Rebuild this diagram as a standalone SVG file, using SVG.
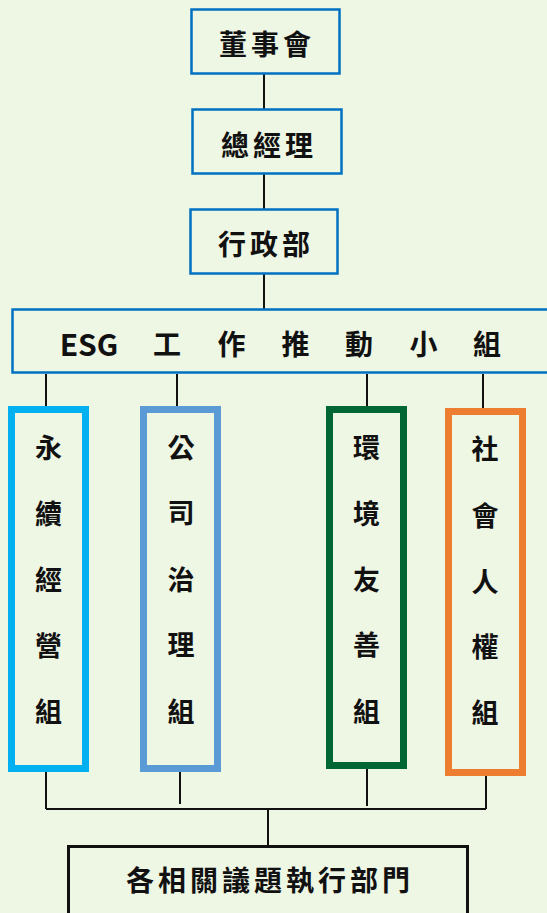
<svg xmlns="http://www.w3.org/2000/svg" width="547" height="913" viewBox="0 0 547 913">
<style>
.bg{fill:#EEF6E4}
.top{fill:#EEF6E4;stroke:#0070C0;stroke-width:2.5}
.grp{fill:#EEF6E4;stroke-width:7}
.t{font-family:"Noto Sans CJK TC","Liberation Sans",sans-serif;font-weight:bold;fill:#111;dominant-baseline:central;text-anchor:middle}
.big{font-size:28px;letter-spacing:4px}
.v{font-size:27px}
.c{stroke:#111;stroke-width:2;fill:none}
</style>
<rect class="bg" x="0" y="0" width="547" height="913"/>
<g id="connectors">
<path class="c" d="M264 74V109M264 174V209M264 274V309"/>
<path class="c" d="M46 374V406M177 374V406M367 374V406M483 374V408"/>
<path class="c" d="M46 772V809M180 772V804M367 769V806M486 776V809"/>
<path class="c" d="M46 809H486M268 809V846" stroke-width="3"/>
</g>
<g id="board">
<rect class="top" x="191.5" y="9.5" width="148" height="64"/>
<text class="t big" x="267" y="43">董事會</text>
</g>
<g id="gm">
<rect class="top" x="192.5" y="109.5" width="149" height="64"/>
<text class="t big" x="269" y="144">總經理</text>
</g>
<g id="admin">
<rect class="top" x="190.5" y="209.5" width="147" height="64"/>
<text class="t big" x="266" y="243">行政部</text>
</g>
<g id="esg">
<rect class="top" x="12.5" y="309.5" width="560" height="63" stroke-width="3"/>
<text class="t" font-size="28px" y="343"><tspan x="89" font-size="30px">ESG</tspan><tspan x="167">工</tspan><tspan x="231.5">作</tspan><tspan x="295.5">推</tspan><tspan x="359">動</tspan><tspan x="423.5">小</tspan><tspan x="487">組</tspan></text>
</g>
<g id="sustain">
<rect class="grp" x="11.5" y="409.5" width="74" height="359" stroke="#00B0F0"/>
<text class="t v" x="48.5"><tspan x="48.5" y="446">永</tspan><tspan x="48.5" y="512">續</tspan><tspan x="48.5" y="578">經</tspan><tspan x="48.5" y="644">營</tspan><tspan x="48.5" y="710">組</tspan></text>
</g>
<g id="governance">
<rect class="grp" x="143.5" y="409.5" width="74" height="359" stroke="#5B9BD5"/>
<text class="t v"><tspan x="181" y="446">公</tspan><tspan x="181" y="511">司</tspan><tspan x="181" y="578">治</tspan><tspan x="181" y="643">理</tspan><tspan x="181" y="710">組</tspan></text>
</g>
<g id="environment">
<rect class="grp" x="329.5" y="409.5" width="74" height="356" stroke="#006633"/>
<text class="t v"><tspan x="366.5" y="446">環</tspan><tspan x="366.5" y="512">境</tspan><tspan x="366.5" y="578">友</tspan><tspan x="366.5" y="643">善</tspan><tspan x="366.5" y="710">組</tspan></text>
</g>
<g id="social">
<rect class="grp" x="448.5" y="411.5" width="74" height="361" stroke="#ED7D31"/>
<text class="t v"><tspan x="485" y="447">社</tspan><tspan x="485" y="514">會</tspan><tspan x="485" y="580">人</tspan><tspan x="485" y="645">權</tspan><tspan x="485" y="711">組</tspan></text>
</g>
<g id="departments">
<rect x="68.5" y="846.5" width="399" height="90" fill="#EEF6E4" stroke="#111" stroke-width="3"/>
<text class="t big" x="270" y="879">各相關議題執行部門</text>
</g>
</svg>
